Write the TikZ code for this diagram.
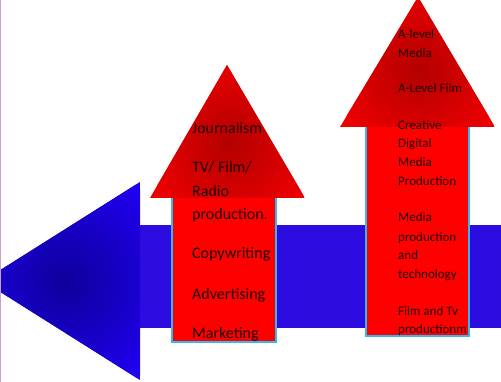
\documentclass[tikz,border=0pt]{standalone}
\usepackage{fontspec}
\setmainfont{Carlito}
\definecolor{barblue}{RGB}{45,12,225}
\definecolor{tipedge}{RGB}{32,0,242}
\definecolor{tipcenter}{RGB}{14,0,155}
\definecolor{headedge}{RGB}{236,0,0}
\definecolor{headcenter}{RGB}{180,0,0}
\definecolor{shaftred}{RGB}{255,0,0}
\definecolor{rim}{RGB}{50,185,240}
\definecolor{leftline}{RGB}{200,160,220}
\definecolor{txt}{RGB}{30,0,0}
\begin{document}
\begin{tikzpicture}[x=1pt,y=-1pt,
  shaftbox/.style={fill=shaftred,draw=rim,line width=2pt},
  bigtxt/.style={anchor=base west,inner sep=0pt,text=txt,font=\fontsize{16}{19}\selectfont},
  smalltxt/.style={anchor=base west,inner sep=0pt,text=txt,font=\fontsize{13}{16}\selectfont}]
\useasboundingbox (0,0) rectangle (501,382);
\begin{scope}
\clip (0,0) rectangle (501,382);
% blue arrow
\fill[barblue] (140,225) rectangle (501,328);
\begin{scope}
\clip (-17,281) -- (140,182) -- (140,380) -- cycle;
\fill[tipedge] (-17,182) rectangle (140,380);
\shade[inner color=tipcenter,outer color=tipedge] (65,282) circle[radius=120pt];
\end{scope}
% red arrow 1
\draw[shaftbox] (172,192) rectangle (276,342);
\begin{scope}
\clip (150,198) -- (227,65) -- (305,198) -- cycle;
\fill[headedge] (150,65) rectangle (305,198);
\shade[inner color=headcenter,outer color=headedge] (230,143) circle[radius=85pt];
\end{scope}
% red arrow 2
\draw[shaftbox] (366,122) rectangle (469,336);
\begin{scope}
\clip (340,127) -- (418,-3) -- (495,127) -- cycle;
\fill[headedge] (340,-3) rectangle (495,127);
\shade[inner color=headcenter,outer color=headedge] (418,70) circle[radius=85pt];
\end{scope}
\draw[leftline,line width=1pt] (0.5,0) -- (0.5,382);
\end{scope}
% texts arrow 1
\node[bigtxt] (t1) at (192,134) {Journalism};
\node[bigtxt] (t2) at (192,173) {TV/ Film/};
\node[bigtxt] (t3) at (192,196.5) {Radio};
\node[bigtxt] (t4) at (192,220) {production.};
\node[bigtxt] (t5) at (192,259) {Copywriting};
\node[bigtxt] (t6) at (192,299) {Advertising};
\node[bigtxt] (t7) at (192,338) {Marketing};
% texts arrow 2
\node[smalltxt] (u1) at (398,39) {A-level};
\node[smalltxt] (u2) at (398,57.3) {Media};
\node[smalltxt] (u3) at (398,92.7) {A-Level Film};
\node[smalltxt] (u4) at (398,129.3) {Creative};
\node[smalltxt] (u5) at (398,147.7) {Digital};
\node[smalltxt] (u6) at (398,167) {Media};
\node[smalltxt] (u7) at (398,186) {Production};
\node[smalltxt] (u8) at (398,222) {Media};
\node[smalltxt] (u9) at (398,242) {production};
\node[smalltxt] (u10) at (398,260) {and};
\node[smalltxt] (u11) at (398,279) {technology};
\node[smalltxt] (u12) at (398,316) {Film and Tv};
\node[smalltxt] (u13) at (398,334) {productionm};
\end{tikzpicture}
\end{document}
